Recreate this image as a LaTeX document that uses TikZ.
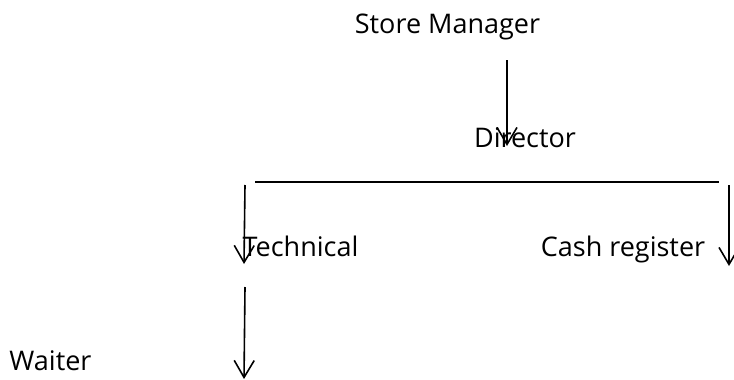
\documentclass[tikz,border=0pt]{standalone}
\usepackage{fontspec}
\setmainfont{Open Sans}
\usetikzlibrary{arrows.meta}
\begin{document}
\begin{tikzpicture}[x=1pt,y=-1pt,
  lbl/.style={inner sep=0pt,anchor=base,font=\fontsize{27}{32}\selectfont},
  conn/.style={line width=1.6pt,-{Straight Barb[length=17pt,width=20pt,line width=1.6pt]}},
  bar/.style={line width=1.6pt}]
\useasboundingbox (0,0) rectangle (734,380);
\node[lbl] (sm) at (447.5,34) {Store Manager};
\node[lbl] (dir) at (525,147) {Director};
\node[lbl] (tech) at (300.5,256) {Technical};
\node[lbl] (cash) at (623,256) {Cash register};
\node[lbl] (waiter) at (50.5,370) {Waiter};
\coordinate (a1s) at (507,60);
\coordinate (a1e) at (507,146);
\coordinate (hl) at (255,182);
\coordinate (hr) at (719,182);
\coordinate (a2s) at (245,185);
\coordinate (a2e) at (244,264);
\coordinate (a3s) at (729,185);
\coordinate (a3e) at (729,266);
\coordinate (a4s) at (245,287);
\coordinate (a4e) at (244,379);
\draw[conn] (a1s) -- (a1e);
\draw[bar] (hl) -- (hr);
\draw[conn] (a2s) -- (a2e);
\draw[conn] (a3s) -- (a3e);
\draw[conn] (a4s) -- (a4e);
\end{tikzpicture}
\end{document}
